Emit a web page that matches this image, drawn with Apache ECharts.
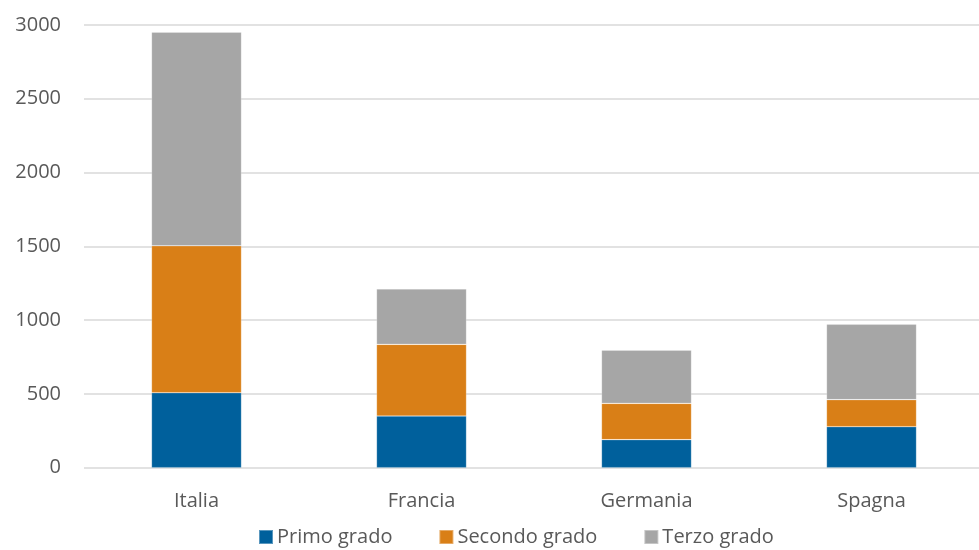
<!DOCTYPE html>
<html><head><meta charset="utf-8">
<script src="https://cdn.jsdelivr.net/npm/echarts@6/dist/echarts.min.js"></script>
<style>html,body{margin:0;padding:0;background:#fff;overflow:hidden}#c{width:984px;height:550px}</style>
</head><body><div id="c"></div>
<script>
const categories = ["Italia", "Francia", "Germania", "Spagna"];
const primoGrado = [508, 350, 190, 278];
const secondoGrado = [996, 486, 246, 183];
const terzoGrado = [1447, 375, 360, 511];
const yTicks = [0, 500, 1000, 1500, 2000, 2500, 3000];

const font = "'Open Sans', 'Noto Sans', sans-serif";
const chart = echarts.init(document.getElementById('c'), null, {renderer: 'canvas'});
const mk = (name, data, color) => ({
  name, type: 'bar', stack: 'tot', data, barWidth: 90,
  itemStyle: {color, borderColor: 'rgba(255,255,255,0.35)', borderWidth: 0.6},
  emphasis: {disabled: true}
});
chart.setOption({
  animation: false,
  textStyle: {fontFamily: font},
  grid: {left: 84, top: 25, right: 0, bottom: 82.3, containLabel: false},
  legend: {
    top: 522, left: 253, itemWidth: 14, itemHeight: 14, itemGap: 46,
    icon: 'rect',
    textStyle: {fontFamily: font, fontSize: 20, color: '#595959', padding: [0, 0, 0, -1]},
    data: ['Primo grado', 'Secondo grado', 'Terzo grado']
  },
  xAxis: {
    type: 'category', data: categories,
    axisLine: {show: false}, axisTick: {show: false},
    axisLabel: {fontFamily: font, fontSize: 20, color: '#595959', margin: 24}
  },
  yAxis: {
    type: 'value', min: yTicks[0], max: yTicks[yTicks.length - 1], interval: 500,
    axisLine: {show: false}, axisTick: {show: false},
    axisLabel: {fontFamily: font, fontSize: 20, color: '#595959', margin: 23, formatter: v => String(v)},
    splitLine: {lineStyle: {color: '#d9d9d9', width: 1.5}}
  },
  series: [
    mk('Primo grado', primoGrado, '#00609c'),
    mk('Secondo grado', secondoGrado, '#d97f17'),
    mk('Terzo grado', terzoGrado, '#a6a6a6')
  ]
});
</script></body></html>
